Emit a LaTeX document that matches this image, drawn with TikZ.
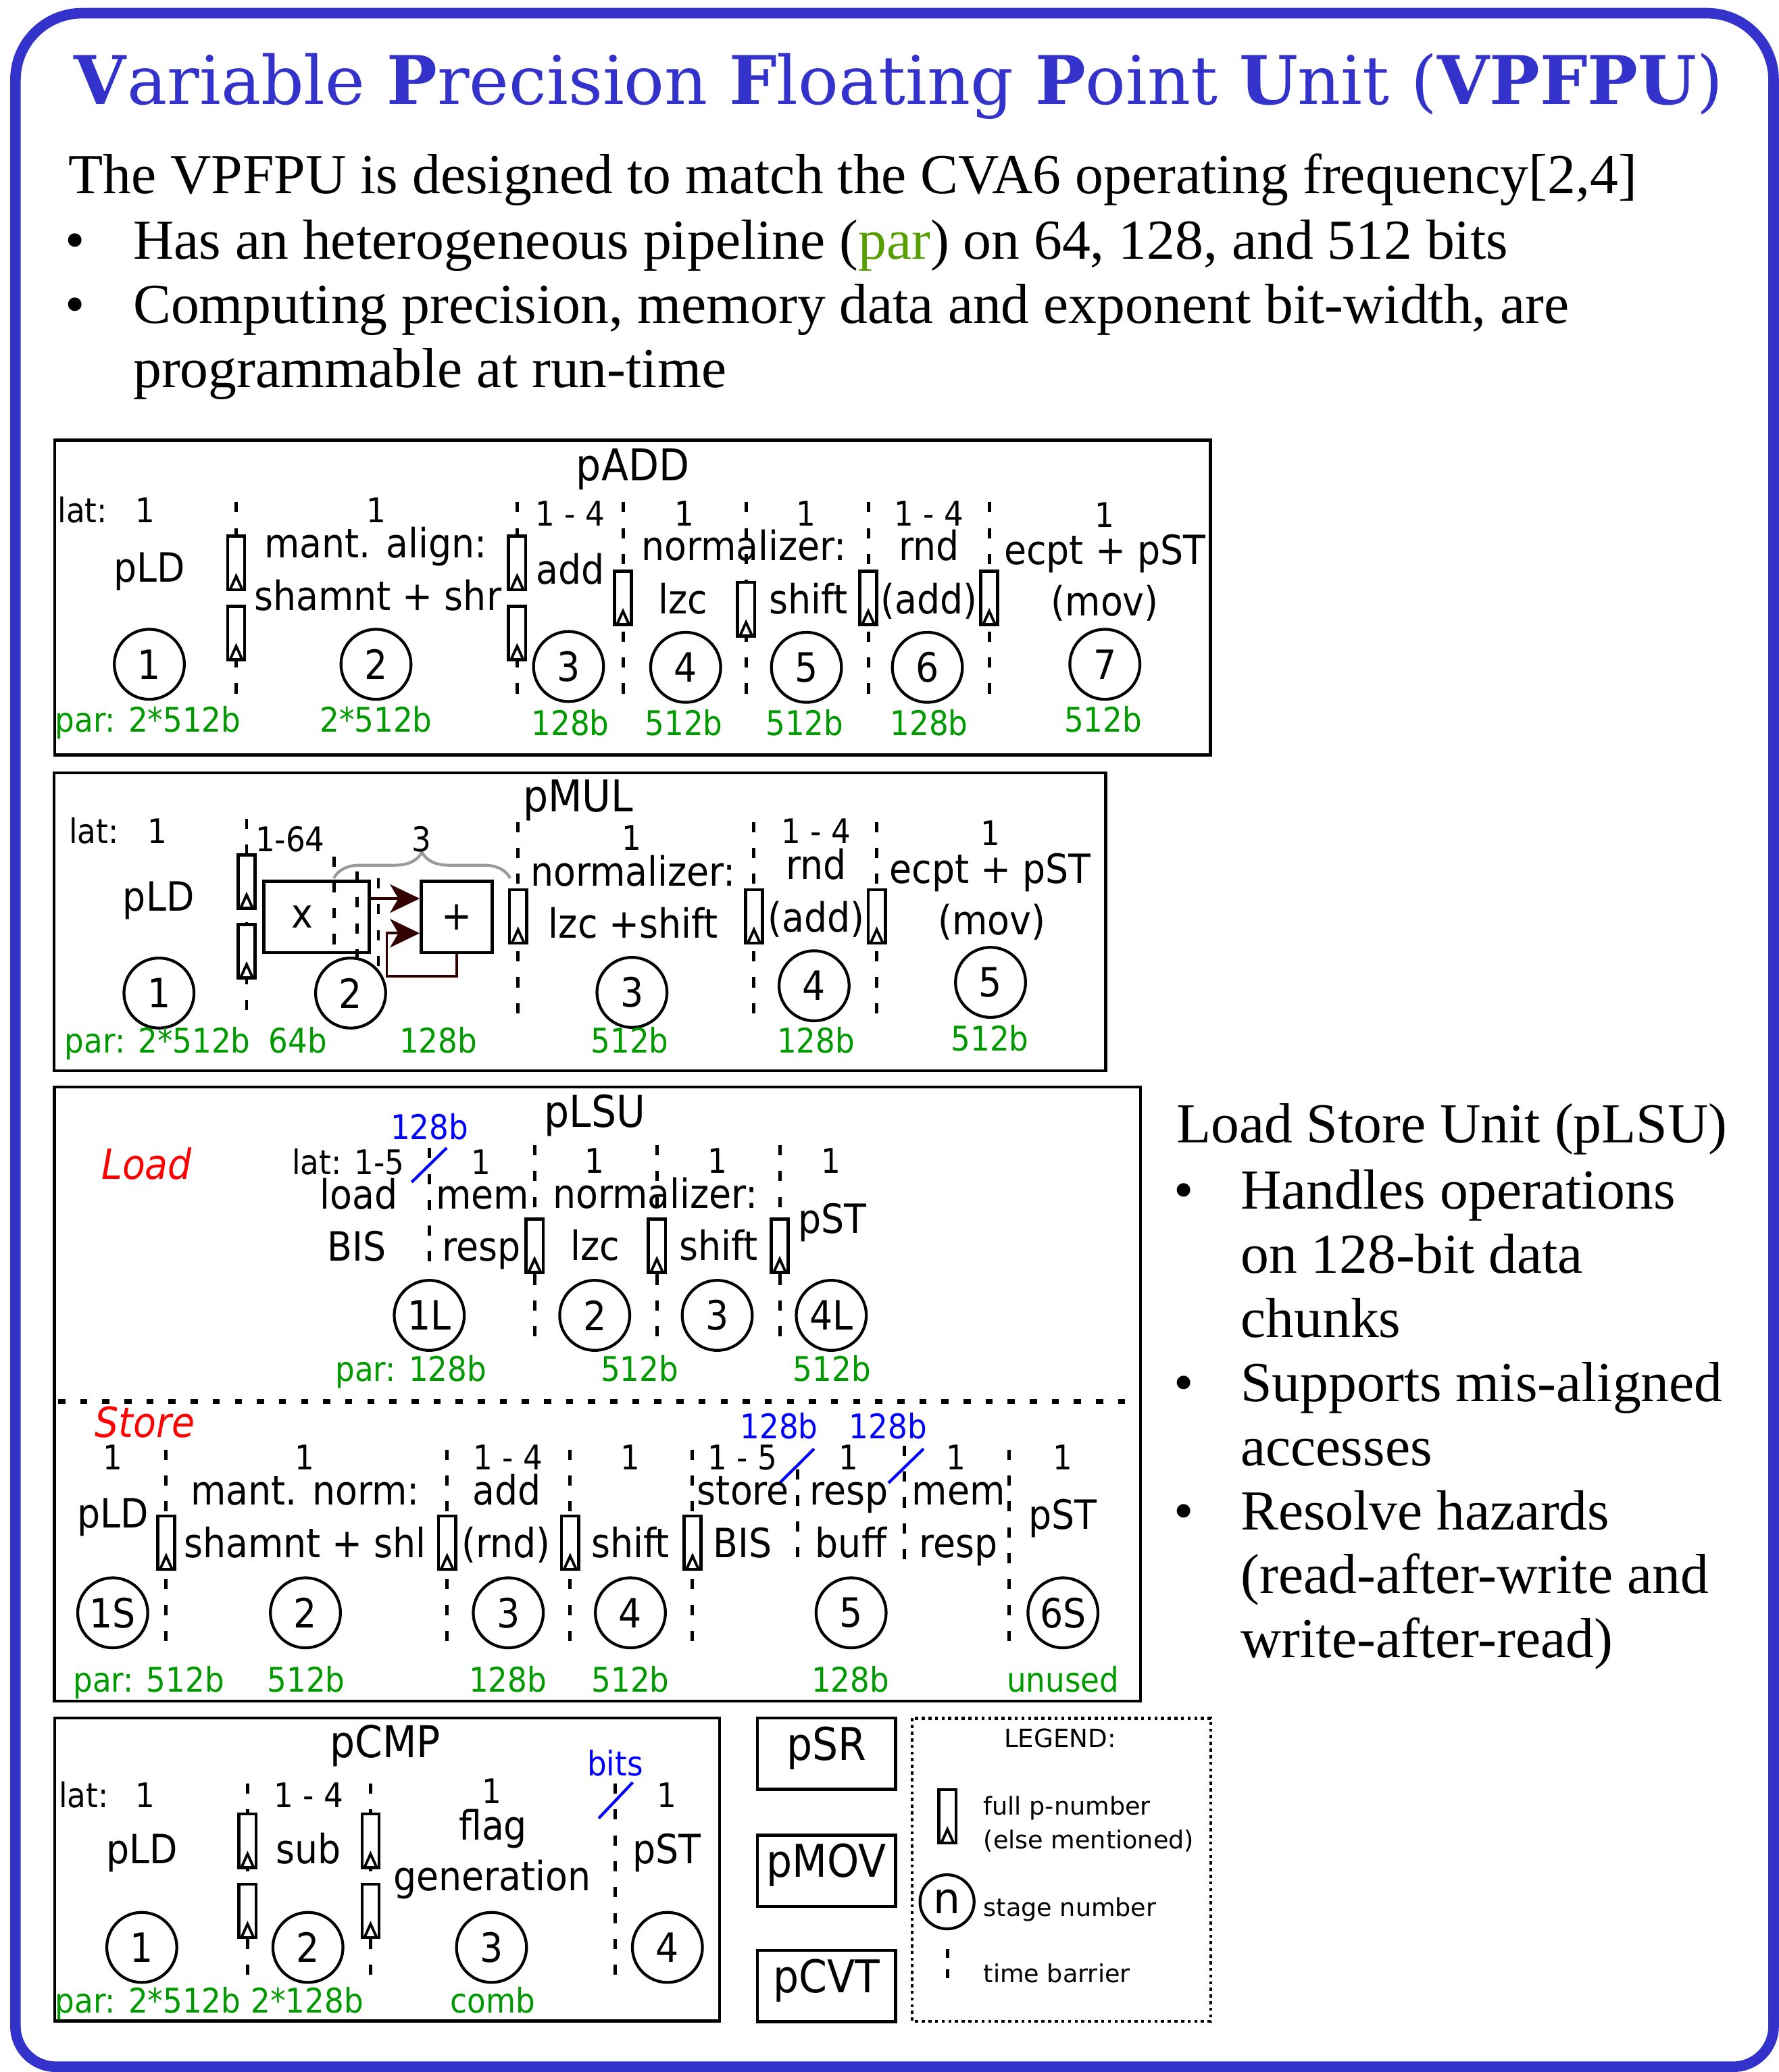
\documentclass[tikz,border=0pt]{standalone}
\usepackage{fontspec}
\setmainfont{Liberation Serif}
\newfontfamily\dvs{DejaVu Sans Condensed}
\newfontfamily\dvsr{DejaVu Sans}
\newfontfamily\titlefont{DejaVu Serif}
\usepackage{tikz}
\usetikzlibrary{arrows.meta, positioning, decorations.pathreplacing}

\definecolor{vblue}{RGB}{51,51,204}
\definecolor{pgreen}{RGB}{0,153,0}
\definecolor{pargreen}{RGB}{85,160,0}
\definecolor{fbred}{RGB}{51,0,0}
\definecolor{bracegray}{RGB}{153,153,153}

\begin{document}
\begin{tikzpicture}[x=0.5566pt, y=-0.5566pt,
    lbl/.style = {inner sep=0pt, anchor=base, font=\dvs\fontsize{17}{17}\selectfont},
    unitname/.style = {lbl, font=\dvs\fontsize{18.5}{18.5}\selectfont},
    latno/.style = {lbl, font=\dvs\fontsize{14.3}{14.3}\selectfont},
    bw/.style = {lbl, text=pgreen, font=\dvs\fontsize{14.3}{14.3}\selectfont},
    bus/.style = {bw, text=blue},
    stage/.style = {draw, circle, line width=1.2pt, minimum size=29.5pt, inner sep=0pt, font=\dvs\fontsize{17}{17}\selectfont},
    reg/.style = {draw, fill=white, line width=1.3pt, minimum width=7.2pt, minimum height=22.5pt, inner sep=0pt,
        path picture={\draw[line width=1.1pt] ([xshift=-2.4pt,yshift=0.4pt]path picture bounding box.south) -- ++(2.4pt,5.3pt) -- ++(2.4pt,-5.3pt);}},
    barrier/.style = {line width=1.4pt, dash pattern=on 4.3pt off 6.6pt},
    unitbox/.style = {draw, line width=1.3pt},
    opbox/.style = {draw, line width=1.3pt, minimum height=30pt, inner sep=0pt, font=\dvs\fontsize{17}{17}\selectfont},
    sidebox/.style = {draw, line width=1.3pt, minimum width=58.3pt, minimum height=30pt, inner sep=0pt,
        text height=13.5pt, text depth=8pt, font=\dvs\fontsize{19}{19}\selectfont},
    slash/.style = {blue, line width=1.2pt},
    fb/.style = {fbred, line width=1.1pt, -{Stealth[length=12.5pt, width=12pt, inset=3.5pt]}},
    txt/.style = {inner sep=0pt, anchor=base west, font=\fontsize{23.8}{23.8}\selectfont},
    bul/.style = {inner sep=0pt, anchor=base, font=\fontsize{23.8}{23.8}\selectfont},
    legtxt/.style = {inner sep=0pt, anchor=base west, font=\dvsr\fontsize{10.4}{10.4}\selectfont}]

\useasboundingbox (0,0) rectangle (1346,1568);

% frame and heading
\draw[vblue, line width=4.45pt] (11.7,700) [rounded corners=28pt] -- (11.7,10) -- (1342,10) -- (1342,700)
    [rounded corners=17pt] -- (1342,1564) -- (11.7,1564) -- cycle;
\node[anchor=base west, inner sep=0pt, text=vblue, font=\titlefont\fontsize{28.3}{28.3}\selectfont] (title) at (55.8,78.9)
    {\textbf{V}ariable \textbf{P}recision \textbf{F}loating \textbf{P}oint \textbf{U}nit (\textbf{VPFPU})};
\node[txt] (intro) at (51.5,146.6) {The VPFPU is designed to match the CVA6 operating frequency[2,4]};
\node[bul] (b1) at (57,196) {•};
\node[txt] (i1) at (100.5,196) {Has an heterogeneous pipeline (\textcolor{pargreen}{par}) on 64, 128, and 512 bits};
\node[bul] (b2) at (57,244.6) {•};
\node[txt] (i2) at (100.5,244.6) {Computing precision, memory data and exponent bit-width, are};
\node[txt] (i3) at (100.5,293) {programmable at run-time};

% pLSU notes
\node[txt] (lsu) at (889.8,865) {Load Store Unit (pLSU)};
\foreach \y/\t [count=\i] in {914.8/Handles operations, 963.3/on 128-bit data, 1012/chunks,
    1060.5/Supports mis-aligned, 1109/accesses, 1157.5/Resolve hazards,
    1206/(read-after-write and, 1254.5/write-after-read)}
    \node[txt] (lsu\i) at (938.5,\y) {\t};
\foreach \y [count=\i] in {914.8, 1060.5, 1157.5}
    \node[bul] (lsub\i) at (895.7,\y) {•};

% pADD
\draw[unitbox] (41.5,333.2) rectangle (916,571.2);
\node[unitname] (addname) at (478.8,364) {pADD};
\foreach \x in {178.7, 391.3, 471.4, 564.5, 657, 748.5}
    \draw[barrier] (\x,380) -- (\x,530);
\foreach \x/\y [count=\i] in {178.7/426, 178.7/479, 391.3/426, 391.3/479, 471.4/452.5, 564.5/461, 657/452.5, 748.5/452.5}
    \node[reg] (addreg\i) at (\x,\y) {};
\foreach \x/\y/\t [count=\i] in {62.4/395.3/lat:, 110/395.3/1, 284.5/395.3/1, 431.5/397.8/1 - 4,
    517.6/397.8/1, 610/397.8/1, 703/397.8/1 - 4, 836/399/1}
    \node[latno] (addlat\i) at (\x,\y) {\t};
\foreach \x/\y/\t [count=\i] in {113/440.5/pLD, 284.3/421.8/mant. align:, 285.9/461.8/shamnt + shr,
    431.5/442.2/add, 563/424.3/normalizer:, 516.8/464.4/lzc, 611.6/464.4/shift,
    703/424.3/rnd, 703/464.4/(add), 836/427/ecpt + pST, 836/466/(mov)}
    \node[lbl] (addop\i) at (\x,\y) {\t};
\foreach \x/\y [count=\i] in {113/502.7, 284.5/502.7, 430.2/504.4, 518.8/505, 610.2/505, 701.7/505, 836/502.7}
    \node[stage] (adds\i) at (\x,\y) {\i};
\foreach \x/\y/\t [count=\i] in {112/553.8/par: 2*512b, 284.5/553.8/2*512b, 431.6/556.4/128b,
    517.4/556.4/512b, 608.8/556.4/512b, 703/556.4/128b, 834.6/553.8/512b}
    \node[bw] (addw\i) at (\x,\y) {\t};

% pMUL
\draw[unitbox] (41,584.9) rectangle (836.6,810.3);
\node[unitname] (mulname) at (437.4,614.4) {pMUL};
\draw[barrier] (186.6,619.5) -- (186.6,769.5);
\foreach \x in {392, 570.5, 663.4}
    \draw[barrier] (\x,622) -- (\x,772.8);
\foreach \x/\y [count=\i] in {186.6/667.2, 186.6/719.8, 392/693.5, 570.5/693.5, 663.4/693.5}
    \node[reg] (mulreg\i) at (\x,\y) {};
\node[opbox, minimum width=44.4pt] (mulx) at (239.6,694) {\hspace*{-12pt}x};
\node[opbox, minimum width=29.9pt] (muladd) at (345.6,694) {+};
\draw[barrier] (252.6,648) -- (252.6,721);
\draw[barrier] (270.2,659.5) -- (270.2,724.3);
\draw[barrier] (286.3,664.6) -- (286.3,736);
\draw[bracegray, line width=1.2pt, decorate, decoration={brace, amplitude=11pt}] (252.6,664.6) -- (386,664.6);
\draw[fb] ([yshift=7.8pt]mulx.east) -- ([yshift=7.8pt]muladd.west);
\coordinate (loop) at (292.7,738.7);
\draw[fb] (muladd.south) |- (loop) |- ([yshift=-6.8pt]muladd.west);
\foreach \x/\y/\t [count=\i] in {71/638.2/lat:, 119.3/638.2/1, 219.5/644.2/1-64, 318.7/644.2/3,
    478.2/643.3/1, 617.5/638.2/1 - 4, 749.5/640/1}
    \node[latno] (mullat\i) at (\x,\y) {\t};
\foreach \x/\y/\t [count=\i] in {120/689.3/pLD, 479/670.6/normalizer:, 479.2/709.8/lzc +shift,
    617.5/665.5/rnd, 617.5/705.5/(add), 749.2/668.2/ecpt + pST, 750.5/707.2/(mov)}
    \node[lbl] (mulop\i) at (\x,\y) {\t};
\foreach \x/\y [count=\i] in {120.3/751.5, 265.3/751.5, 478.2/751, 616/746, 749.5/743.4}
    \node[stage] (muls\i) at (\x,\y) {\i};
\foreach \x/\y/\t [count=\i] in {119.3/796.7/par: 2*512b, 225.4/796.7/64b, 331.6/796.7/128b,
    476.6/796.7/512b, 617.4/796.7/128b, 749/795/512b}
    \node[bw] (mulw\i) at (\x,\y) {\t};

% pLSU
\draw[unitbox] (41.2,822.6) rectangle (863,1287.3);
\node[unitname] (lsuname) at (450,852.9) {pLSU};
\draw[line width=2pt, dash pattern=on 3pt off 6.3pt] (44,1060.6) -- (855,1060.6);
% load side
\node[lbl, text=red, font=\dvs\itshape\fontsize{17.5}{17.5}\selectfont] (load) at (111,892.3) {Load};
\draw[barrier] (324.7,868.7) -- (324.7,954.5);
\foreach \x in {404.5, 497, 590}
    \draw[barrier] (\x,866.5) -- (\x,1021);
\foreach \x [count=\i] in {404.5, 497, 590}
    \node[reg] (ldreg\i) at (\x,942.8) {};
\node[bus] (ldbus) at (325,862.3) {128b};
\draw[slash] (311.5,894.6) -- (338,868.7);
\foreach \x/\y/\t [count=\i] in {263.5/888.7/lat: 1-5, 363.8/888.7/1, 450/887.7/1, 542.7/887.7/1, 628.9/887.7/1}
    \node[latno] (ldlat\i) at (\x,\y) {\t};
\foreach \x/\y/\t [count=\i] in {271.4/915.1/load, 270/954.3/BIS, 365/915.1/mem, 364.2/954.3/resp,
    496/914.4/normalizer:, 450.2/953.8/lzc, 543.8/953.8/shift, 630/933.2/pST}
    \node[lbl] (ldop\i) at (\x,\y) {\t};
\foreach \x/\t [count=\i] in {324.8/1L, 450/2, 542.7/3, 629/4L}
    \node[stage] (lds\i) at (\x,995.4) {\t};
\foreach \x/\t [count=\i] in {311/par: 128b, 484/512b, 629.5/512b}
    \node[bw] (ldw\i) at (\x,1045.4) {\t};
% store side
\node[lbl, text=red, font=\dvs\itshape\fontsize{17.5}{17.5}\selectfont] (store) at (109.7,1087.9) {Store};
\foreach \x in {125.7, 338.3, 431.4, 524, 763.5}
    \draw[barrier] (\x,1097) -- (\x,1245.5);
\draw[barrier] (603.6,1112) -- (603.6,1180.4);
\draw[barrier] (684.4,1094) -- (684.4,1182);
\foreach \x [count=\i] in {125.7, 338.3, 431.4, 524}
    \node[reg] (streg\i) at (\x,1167.5) {};
\node[bus] (stbus1) at (589.5,1088.8) {128b};
\node[bus] (stbus2) at (672,1088.8) {128b};
\draw[slash] (590,1122.2) -- (616,1096.4);
\draw[slash] (672.3,1122.2) -- (698.8,1096.4);
\foreach \x/\t [count=\i] in {85.3/1, 230.6/1, 384.3/1 - 4, 477/1, 561.8/1 - 5, 642.3/1, 723.6/1, 804.3/1}
    \node[latno] (stlat\i) at (\x,1112.1) {\t};
\foreach \x/\y/\t [count=\i] in {85.5/1156.1/pLD, 230.9/1138.8/mant. norm:, 230.9/1178.8/shamnt + shl,
    383.7/1138.8/add, 382.8/1178.8/(rnd), 477/1178.8/shift, 562.3/1138.8/store, 561.8/1178.8/BIS,
    642.5/1138.8/resp, 643.9/1178.8/buff, 725.4/1138.8/mem, 725.4/1178.8/resp, 804/1157/pST}
    \node[lbl] (stop\i) at (\x,\y) {\t};
\foreach \x/\t [count=\i] in {85.3/1S, 231.1/2, 384.6/3, 477/4, 644/5, 804.3/6S}
    \node[stage] (sts\i) at (\x,1220.5) {\t};
\foreach \x/\t [count=\i] in {112.5/par: 512b, 231.7/512b, 384.3/128b, 477/512b, 643.4/128b, 804.3/unused}
    \node[bw] (stw\i) at (\x,1280.4) {\t};

% pCMP
\draw[unitbox] (41.5,1300) rectangle (544.5,1529.5);
\node[unitname] (cmpname) at (291.6,1330.1) {pCMP};
\foreach \x in {187.3, 280.4, 465.6}
    \draw[barrier] (\x,1349.7) -- (\x,1500.5);
\foreach \x/\y [count=\i] in {187.3/1393, 187.3/1446, 280.4/1393, 280.4/1446}
    \node[reg] (cmpreg\i) at (\x,\y) {};
\node[bus] (cmpbus) at (465.4,1343.7) {bits};
\draw[slash] (453,1376) -- (478.8,1348.8);
\foreach \x/\y/\t [count=\i] in {63.3/1367.6/lat:, 110/1367.6/1, 233.6/1367.6/1 - 4, 371.9/1365/1, 504.5/1367.6/1}
    \node[latno] (cmplat\i) at (\x,\y) {\t};
\foreach \x/\y/\t [count=\i] in {107.3/1410.2/pLD, 233.6/1410.2/sub, 373/1392.5/flag,
    372.4/1430.6/generation, 504.5/1410.2/pST}
    \node[lbl] (cmpop\i) at (\x,\y) {\t};
\foreach \x [count=\i] in {107.3, 233, 371.9, 505}
    \node[stage] (cmps\i) at (\x,1473.7) {\i};
\foreach \x/\t [count=\i] in {112/par: 2*512b, 232.4/2*128b, 373/comb}
    \node[bw] (cmpw\i) at (\x,1523.5) {\t};

% other units
\node[sidebox] (psr) at (625.4,1327) {pSR};
\node[sidebox] (pmov) at (625.4,1415.8) {pMOV};
\node[sidebox] (pcvt) at (625.4,1503) {pCVT};

% legend
\draw[line width=1.2pt, dash pattern=on 1.3pt off 1.5pt] (690.2,1300.3) rectangle (916,1529.5);
\node[lbl, font=\dvsr\fontsize{10.6}{10.6}\selectfont] (legend) at (802.2,1322.4) {LEGEND:};
\node[reg] (legreg) at (716.9,1374.4) {};
\node[stage, minimum size=22.8pt, font=\dvsr\fontsize{18}{18}\selectfont] (legstage) at (716.6,1439.2) {n};
\draw[barrier, dash pattern=on 3.7pt off 4.9pt] (716.8,1475) -- (716.8,1497);
\foreach \y/\t [count=\i] in {1373.2/full p-number, 1398.8/(else mentioned), 1449.9/stage number, 1500.2/time barrier}
    \node[legtxt] (leg\i) at (743.9,\y) {\t};
\end{tikzpicture}
\end{document}
